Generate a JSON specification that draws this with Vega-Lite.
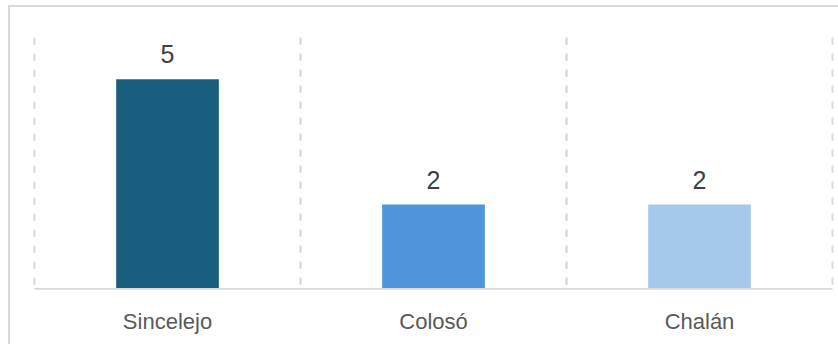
{
  "$schema": "https://vega.github.io/schema/vega-lite/v6.json",
  "width": 829,
  "height": 338,
  "autosize": {"type": "none"},
  "padding": {"left": 9, "top": 6, "right": 0, "bottom": 0},
  "background": "white",
  "config": {
    "view": {"stroke": "#d9d9d9", "strokeWidth": 2, "strokeDash": [829, 1167, 338]},
    "font": "Liberation Sans"
  },
  "data": {
    "values": [
      {"municipio": "Sincelejo", "valor": 5},
      {"municipio": "Colosó", "valor": 2},
      {"municipio": "Chalán", "valor": 2}
    ]
  },
  "encoding": {
    "x": {
      "field": "municipio",
      "type": "nominal",
      "sort": null,
      "scale": {"paddingInner": 0, "paddingOuter": 0.05827, "align": 0.8226},
      "axis": {
        "title": null,
        "domain": false,
        "ticks": false,
        "grid": false,
        "labelAngle": 0,
        "labelFontSize": 22,
        "labelColor": "#595959",
        "labelPadding": 2,
        "offset": -35
      }
    }
  },
  "layer": [
    {
      "mark": {"type": "rule", "color": "#d9d9d9", "strokeWidth": 2, "strokeDash": [7, 9]},
      "encoding": {
        "x": {"field": "municipio", "type": "nominal", "sort": null, "bandPosition": 0},
        "y": {"datum": 6, "type": "quantitative", "scale": {"domain": [-1.342, 6.758], "nice": false, "zero": false}, "axis": null},
        "y2": {"datum": 0}
      }
    },
    {
      "mark": {"type": "rule", "color": "#d9d9d9", "strokeWidth": 2, "strokeDash": [7, 9]},
      "encoding": {
        "x": {"field": "municipio", "type": "nominal", "sort": null, "bandPosition": 1},
        "y": {"datum": 6, "type": "quantitative"},
        "y2": {"datum": 0}
      }
    },
    {
      "mark": {"type": "bar", "color": "#d9d9d9", "width": {"band": 1}},
      "encoding": {
        "y": {"datum": 0, "type": "quantitative"},
        "y2": {"datum": -0.042}
      }
    },
    {
      "mark": {"type": "bar", "width": {"band": 0.386}},
      "encoding": {
        "y": {"field": "valor", "type": "quantitative"},
        "y2": {"datum": 0},
        "color": {
          "field": "municipio",
          "type": "nominal",
          "sort": null,
          "scale": {"domain": ["Sincelejo", "Colosó", "Chalán"], "range": ["#185f7e", "#4f95dc", "#a6c9ea"]},
          "legend": null
        }
      }
    },
    {
      "mark": {"type": "text", "baseline": "alphabetic", "dy": -16, "fontSize": 25, "color": "#404040"},
      "encoding": {
        "y": {"field": "valor", "type": "quantitative"},
        "text": {"field": "valor", "type": "quantitative"}
      }
    }
  ]
}
